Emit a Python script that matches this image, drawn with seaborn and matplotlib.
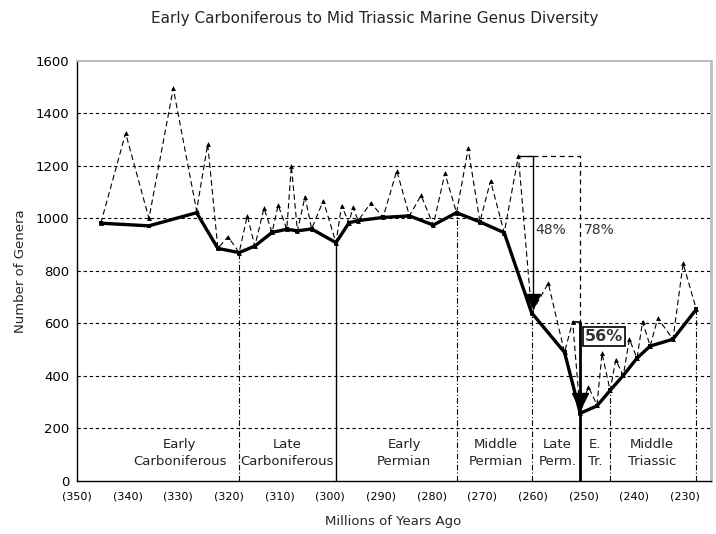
import pandas as pd
import seaborn as sns
import matplotlib
matplotlib.use("Agg")
import matplotlib.pyplot as plt

# genus counts, ages in Ma (plotted as negative so time runs left->right)
sub_age = [345.3, 340.4, 335.8, 331.0, 326.4, 324.2, 322.2, 320.2, 318.0, 316.4,
           314.9, 313.1, 311.5, 310.3, 308.6, 307.7, 306.5, 305.0, 303.7, 301.4,
           298.9, 297.8, 296.3, 295.6, 294.5, 292.0, 289.6, 286.9, 284.4, 282.1,
           279.7, 277.4, 275.1, 272.8, 270.5, 268.4, 265.7, 262.9, 260.3, 257.0,
           253.8, 252.2, 250.7, 249.1, 247.4, 246.4, 244.8, 243.7, 242.2, 241.0,
           239.5, 238.4, 236.9, 235.4, 232.4, 230.4, 227.8]
sub_genera = [982, 1325, 1000, 1496, 1030, 1283, 886, 931, 870, 1010,
              895, 1039, 947, 1051, 959, 1200, 953, 1083, 960, 1068,
              908, 1048, 984, 1042, 992, 1060, 1004, 1182, 1010, 1088,
              975, 1172, 1022, 1267, 987, 1143, 946, 1238, 641, 753,
              490, 607, 258, 359, 290, 486, 345, 461, 402, 540,
              468, 607, 514, 620, 540, 829, 654]

stage_age = [345.3, 335.8, 326.4, 322.2, 318.0, 314.9, 311.5, 308.6, 306.5, 303.7,
             298.9, 296.3, 294.5, 289.6, 284.4, 279.7, 275.1, 270.5, 265.7, 260.3,
             253.8, 250.7, 247.4, 244.8, 242.2, 239.5, 236.9, 232.4, 227.8]
stage_genera = [982, 972, 1022, 886, 870, 895, 947, 959, 953, 960,
                908, 984, 992, 1004, 1010, 975, 1022, 987, 946, 641,
                490, 258, 286, 345, 402, 468, 514, 540, 654]

# period boundaries (Ma), height where the drop line starts, solid or dash-dot
bound_age = [318.0, 298.9, 275.1, 260.3, 244.8, 227.8]
bound_top = [870, 908, 1022, 641, 345, 654]
bound_solid = [False, True, False, False, False, False]

periods = ["Early\nCarboniferous", "Late\nCarboniferous", "Early\nPermian",
           "Middle\nPermian", "Late\nPerm.", "E.\nTr.", "Middle\nTriassic"]
period_mid = [329.7, 308.6, 285.4, 267.3, 255.2, 247.7, 236.5]

xticks = list(range(350, 229, -10))
yticks = list(range(0, 1601, 200))

sub = pd.DataFrame({"x": [-a for a in sub_age], "y": sub_genera})
stage = pd.DataFrame({"x": [-a for a in stage_age], "y": stage_genera})

sns.set_style("white")
plt.rcParams["font.family"] = ["DejaVu Sans"]

fig = plt.figure(figsize=(7.16, 5.34), dpi=100)
ax = fig.add_axes([0.1075, 0.0993, 0.8855, 0.7865])

# horizontal dashed grid
for v in yticks[1:-1]:
    ax.axhline(v, color="black", lw=0.8, ls=(0, (3, 2.5)), zorder=1)

# period boundary drop lines
for a, top, solid in zip(bound_age, bound_top, bound_solid):
    ax.plot([-a, -a], [0, top], color="black",
            lw=1.0 if solid else 0.8, ls="-" if solid else (0, (5, 2, 1, 2)), zorder=2)

sns.lineplot(data=sub, x="x", y="y", ax=ax, sort=False, color="black", lw=0.8,
             dashes=False, linestyle=(0, (5, 3)), marker="^", markersize=3.5,
             markeredgewidth=0, zorder=3)
sns.lineplot(data=stage, x="x", y="y", ax=ax, sort=False, color="black", lw=2.4,
             marker="s", markersize=3, markeredgewidth=0, zorder=4)

# extinction annotations
ax.plot([-262.9, -260.0], [1238, 1238], color="black", lw=1.0, zorder=5)
ax.plot([-260.0, -260.0], [1238, 680], color="black", lw=1.0, zorder=5)
ax.plot(-260.0, 685, marker="v", ms=10, color="black", zorder=6)
ax.plot([-260.0, -250.7, -250.7], [1238, 1238, 607], color="black", lw=0.9,
        ls=(0, (4, 3)), zorder=5)
ax.plot([-252.2, -250.7], [607, 607], color="black", lw=1.2, zorder=5)
ax.plot([-250.7, -250.7], [607, 0], color="black", lw=2.0, zorder=5)
ax.plot(-250.7, 305, marker="v", ms=12, color="black", zorder=6)

ax.text(-259.6, 956, "48%", fontsize=10, color="#333333", va="center")
ax.text(-250.0, 956, "78%", fontsize=10, color="#333333", va="center")
ax.text(-249.7, 550, "56%", fontsize=11.5, fontweight="bold", color="#333333",
        va="center", zorder=7,
        bbox=dict(boxstyle="square,pad=0.12", fc="white", ec="black", lw=1.2))

for name, mid in zip(periods, period_mid):
    ax.text(-mid, 107, name, fontsize=9.5, color="#222222", ha="center",
            va="center", linespacing=1.4)

ax.set_xlim(-350, -224.9)
ax.set_ylim(0, 1600)
ax.set_xticks([-t for t in xticks])
ax.set_xticklabels([f"({t})" for t in xticks], fontsize=8)
ax.set_yticks(yticks)
ax.set_yticklabels([str(t) for t in yticks], fontsize=9.5)
ax.tick_params(axis="both", direction="inout", length=5, width=0.8, colors="black")
ax.tick_params(axis="y", pad=3)
ax.tick_params(axis="x", pad=5)
ax.set_xlabel("")
ax.set_ylabel("")

for side in ["left", "bottom"]:
    ax.spines[side].set_color("black")
    ax.spines[side].set_linewidth(1.0)
ax.spines["top"].set_color("#bdbdbd")
ax.spines["top"].set_linewidth(1.5)
ax.spines["right"].set_color("#bdbdbd")
ax.spines["right"].set_linewidth(2.0)

fig.text(0.523, 0.966, "Early Carboniferous to Mid Triassic Marine Genus Diversity",
         fontsize=11, ha="center", va="center")
fig.text(0.549, 0.0225, "Millions of Years Ago", fontsize=9.5, ha="center", va="center")
fig.text(0.028, 0.493, "Number of Genera", fontsize=9.5, rotation=90,
         ha="center", va="center")

fig.savefig("out.png", dpi=100)
